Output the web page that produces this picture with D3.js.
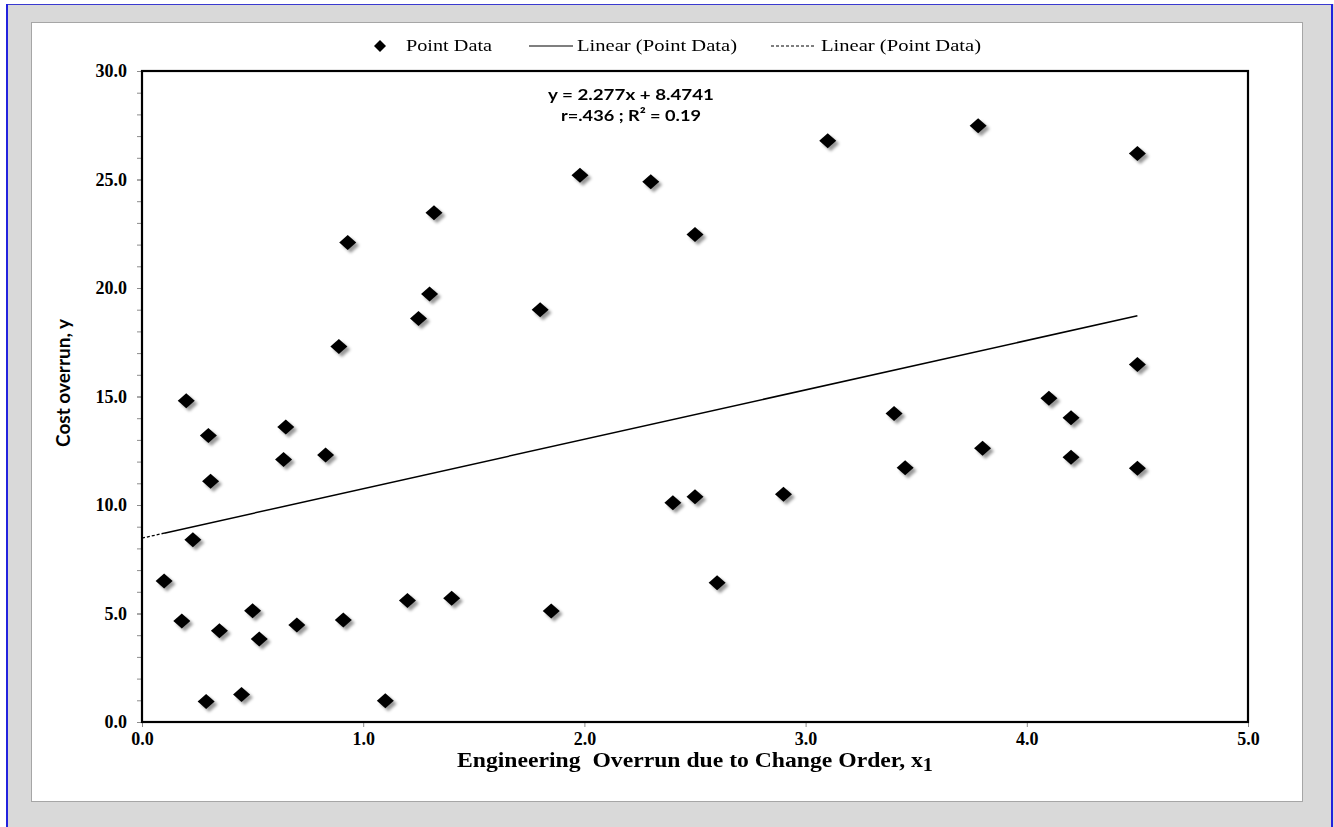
<!DOCTYPE html>
<html>
<head>
<meta charset="utf-8">
<script src="https://cdn.jsdelivr.net/npm/d3@7"></script>
<style>
	html, body { margin: 0; padding: 0; background: #fff; }
	svg { display: block; }
</style>
</head>
<body>
<div id="chart"></div>
<script>
// Engineering overrun (x1) vs cost overrun (y)
const xValues = [0.10, 0.18, 0.20, 0.23, 0.30, 0.31, 0.29, 0.35, 0.45, 0.50, 0.53, 0.64, 0.65, 0.70, 0.83,
	0.89, 0.91, 0.93, 1.10, 1.20, 1.25, 1.30, 1.32, 1.40, 1.80, 1.85, 1.98, 2.30, 2.40, 2.50,
	2.50, 2.60, 2.90, 3.10, 3.40, 3.45, 3.78, 3.80, 4.10, 4.20, 4.20, 4.50, 4.50, 4.50];
const yValues = [6.5, 4.65, 14.8, 8.4, 13.2, 11.1, 0.95, 4.2, 1.27, 5.13, 3.82, 12.1, 13.6, 4.47, 12.3,
	17.3, 4.7, 22.1, 0.98, 5.6, 18.6, 19.72, 23.47, 5.7, 19.0, 5.11, 25.2, 24.9, 10.1, 10.38,
	22.47, 6.42, 10.49, 26.79, 14.22, 11.72, 27.48, 12.61, 14.92, 14.02, 12.2, 26.2, 16.48, 11.69];

const xTicks = [0, 1, 2, 3, 4, 5];
const yTicks = [0, 5, 10, 15, 20, 25, 30];
const yMinorTicks = d3.range(0, 31, 1);

const legendLabels = ['Point Data', 'Linear (Point Data)', 'Linear (Point Data)'];
const slope = 2.277;
const intercept = 8.4741;
const equationLines = ['y = 2.277x + 8.4741', 'r=.436 ; R\u00b2 = 0.19'];

const W = 1334, H = 827;
const plot = { left: 142, top: 71, right: 1248, bottom: 722 };
const serif = "'Liberation Serif', 'Times New Roman', serif";
const sans = "Lato, 'Noto Sans', sans-serif";

const svg = d3.select('#chart').append('svg')
	.attr('width', W)
	.attr('height', H);

const defs = svg.append('defs');
const shadow = defs.append('filter').attr('id', 'shadow')
	.attr('x', '-50%').attr('y', '-50%').attr('width', '200%').attr('height', '200%');
shadow.append('feDropShadow')
	.attr('dx', 3).attr('dy', 3)
	.attr('stdDeviation', 1.8)
	.attr('flood-color', '#000')
	.attr('flood-opacity', 0.4);

/* -------------------- frame ---------------------- */
svg.append('rect').attr('width', W).attr('height', H).attr('fill', '#d9d9d9');
svg.append('rect').attr('x', 0).attr('y', 0).attr('width', W).attr('height', 4).attr('fill', '#fff');
svg.append('rect').attr('x', 0).attr('y', 0).attr('width', 6).attr('height', H).attr('fill', '#fff');
svg.append('line').attr('x1', 6).attr('x2', 1333).attr('y1', 4.5).attr('y2', 4.5)
	.attr('stroke', '#3a3ad0').attr('stroke-width', 1);
svg.append('line').attr('x1', 7).attr('x2', 7).attr('y1', 4).attr('y2', H)
	.attr('stroke', '#2222dd').attr('stroke-width', 2);
svg.append('line').attr('x1', 1332).attr('x2', 1332).attr('y1', 4).attr('y2', H)
	.attr('stroke', '#2222dd').attr('stroke-width', 2);

svg.append('rect')
	.attr('x', 31.5).attr('y', 22.5)
	.attr('width', 1271).attr('height', 779)
	.attr('fill', '#fff')
	.attr('stroke', '#a6a6a6');

/* -------------------- scales ---------------------- */
const x = d3.scaleLinear().domain([0, 5]).range([plot.left, plot.right]);
const y = d3.scaleLinear().domain([0, 30]).range([plot.bottom, plot.top]);

// minor y ticks
svg.append('g')
	.attr('transform', `translate(${plot.left},0)`)
	.call(d3.axisLeft(y).tickValues(yMinorTicks).tickSize(5).tickFormat(''))
	.call(g => g.select('.domain').remove())
	.call(g => g.selectAll('line').attr('stroke', '#8c8c8c'));

// major y ticks + labels
svg.append('g')
	.attr('transform', `translate(${plot.left},0)`)
	.call(d3.axisLeft(y).tickValues(yTicks).tickSize(5).tickPadding(10).tickFormat(d3.format('.1f')))
	.call(g => g.select('.domain').remove())
	.call(g => g.selectAll('line').attr('stroke', '#8c8c8c'))
	.call(g => g.selectAll('text')
		.attr('font-family', serif)
		.attr('font-weight', 'bold')
		.attr('font-size', 18)
		.attr('fill', '#000'));

// x ticks + labels
svg.append('g')
	.attr('transform', `translate(0,${plot.bottom})`)
	.call(d3.axisBottom(x).tickValues(xTicks).tickSize(5).tickPadding(5).tickFormat(d3.format('.1f')))
	.call(g => g.select('.domain').remove())
	.call(g => g.selectAll('line').attr('stroke', '#8c8c8c'))
	.call(g => g.selectAll('text')
		.attr('font-family', serif)
		.attr('font-weight', 'bold')
		.attr('font-size', 18)
		.attr('fill', '#000'));

// plot border
svg.append('rect')
	.attr('x', plot.left).attr('y', plot.top)
	.attr('width', plot.right - plot.left)
	.attr('height', plot.bottom - plot.top)
	.attr('fill', 'none')
	.attr('stroke', '#000')
	.attr('stroke-width', 2.2);

/* -------------------- trend line ---------------------- */
const xMin = d3.min(xValues), xMax = d3.max(xValues);
const fit = v => slope * v + intercept;

svg.append('line')
	.attr('x1', x(0)).attr('y1', y(fit(0)))
	.attr('x2', x(xMin)).attr('y2', y(fit(xMin)))
	.attr('stroke', '#000').attr('stroke-width', 1.3)
	.attr('stroke-dasharray', '3,2');

svg.append('line')
	.attr('x1', x(xMin)).attr('y1', y(fit(xMin)))
	.attr('x2', x(xMax)).attr('y2', y(fit(xMax)))
	.attr('stroke', '#000').attr('stroke-width', 1.5);

/* -------------------- points ---------------------- */
const diamond = (hw, hh) => `M0,${-hh}L${hw},0L0,${hh}L${-hw},0Z`;

svg.append('g')
	.attr('filter', 'url(#shadow)')
	.selectAll('path')
	.data(xValues.map((v, i) => [v, yValues[i]]))
	.join('path')
	.attr('d', diamond(8.5, 7.5))
	.attr('transform', d => `translate(${x(d[0])},${y(d[1])})`)
	.attr('fill', '#000');

/* -------------------- equation ---------------------- */
svg.append('g').selectAll('text')
	.data(equationLines)
	.join('text')
	.attr('x', 631)
	.attr('y', (d, i) => 100 + i * 21)
	.attr('text-anchor', 'middle')
	.attr('font-family', sans)
	.attr('font-weight', 'bold')
	.attr('font-size', 16)
	.attr('textLength', (d, i) => i === 0 ? 166 : 140)
	.attr('lengthAdjust', 'spacingAndGlyphs')
	.text(d => d);

/* -------------------- legend ---------------------- */
const legend = svg.append('g').attr('font-family', serif).attr('font-size', 17);

legend.append('path').attr('d', diamond(6, 6)).attr('transform', 'translate(380,46)');
legend.append('text').attr('x', 406).attr('y', 51).attr('textLength', 86)
	.attr('lengthAdjust', 'spacingAndGlyphs').text(legendLabels[0]);

legend.append('line').attr('x1', 529).attr('x2', 573).attr('y1', 46).attr('y2', 46)
	.attr('stroke', '#000').attr('stroke-width', 1.2);
legend.append('text').attr('x', 577).attr('y', 51).attr('textLength', 160)
	.attr('lengthAdjust', 'spacingAndGlyphs').text(legendLabels[1]);

legend.append('line').attr('x1', 771).attr('x2', 814).attr('y1', 46).attr('y2', 46)
	.attr('stroke', '#000').attr('stroke-width', 1.2).attr('stroke-dasharray', '3,2');
legend.append('text').attr('x', 821).attr('y', 51).attr('textLength', 160)
	.attr('lengthAdjust', 'spacingAndGlyphs').text(legendLabels[2]);

/* -------------------- axis titles ---------------------- */
const xTitle = svg.append('text')
	.attr('x', 695).attr('y', 767)
	.attr('text-anchor', 'middle')
	.attr('font-family', serif)
	.attr('font-weight', 'bold')
	.attr('font-size', 21)
	.attr('textLength', 476)
	.attr('lengthAdjust', 'spacingAndGlyphs');
xTitle.append('tspan').text('Engineering\u00a0 Overrun due to Change Order, x');
xTitle.append('tspan').attr('dy', 4).attr('font-size', 18).text('1');

svg.append('text')
	.attr('transform', 'translate(70,383) rotate(-90)')
	.attr('text-anchor', 'middle')
	.attr('font-family', sans)
	.attr('font-weight', 'bold')
	.attr('font-size', 18)
	.attr('textLength', 128)
	.attr('lengthAdjust', 'spacingAndGlyphs')
	.text('Cost overrun, y');
</script>
</body>
</html>
